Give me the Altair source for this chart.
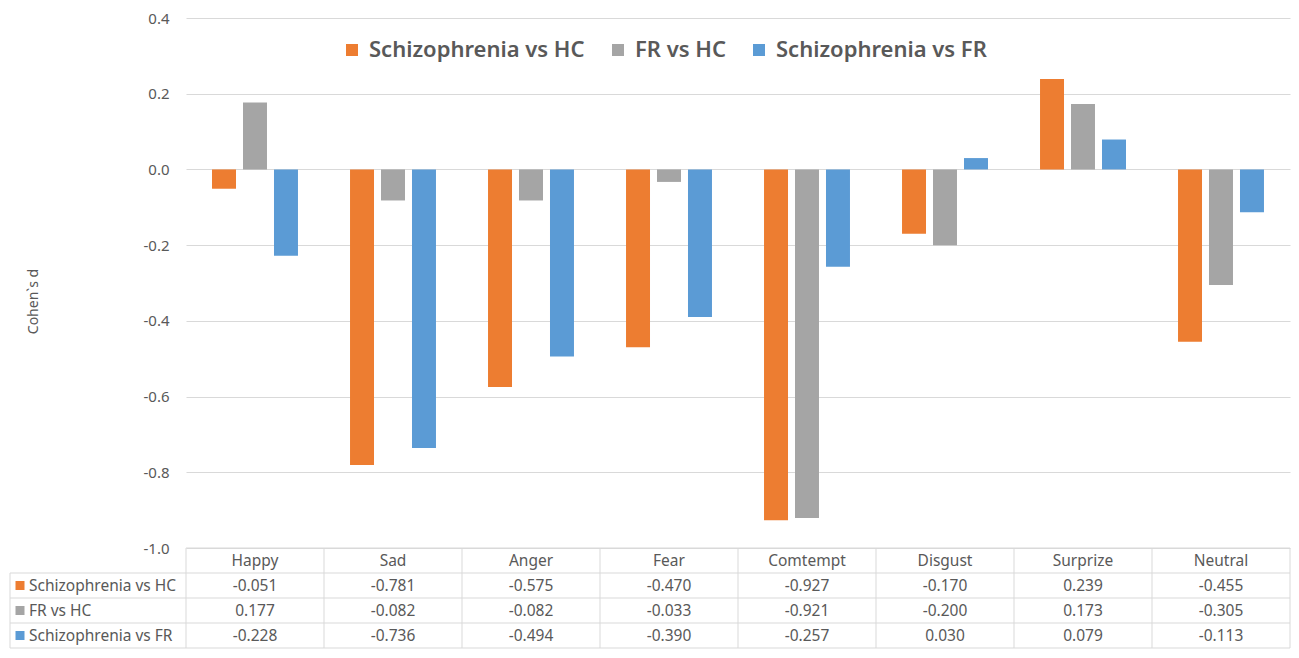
import altair as alt
import pandas as pd

CATEGORIES = ["Happy", "Sad", "Anger", "Fear", "Comtempt", "Disgust", "Surprize", "Neutral"]
SERIES = ["Schizophrenia vs HC", "FR vs HC", "Schizophrenia vs FR"]
COLORS = ["#ED7D31", "#A5A5A5", "#5B9BD5"]
SZ_VS_HC = [-0.051, -0.781, -0.575, -0.470, -0.927, -0.170, 0.239, -0.455]
FR_VS_HC = [0.177, -0.082, -0.082, -0.033, -0.921, -0.200, 0.173, -0.305]
SZ_VS_FR = [-0.228, -0.736, -0.494, -0.390, -0.257, 0.030, 0.079, -0.113]
Y_TICKS = [-1.0, -0.8, -0.6, -0.4, -0.2, 0.0, 0.2, 0.4]
Y_TITLE = "Cohen`s d"

# layout constants (pixels)
W = 1104
H = 530
ROW_H = 25
LEFT = 178
TOP = 10
LEFT_COL = -176
FONT = "Noto Sans"
TXT = "#595959"
GRID = "#D9D9D9"

values = {SERIES[0]: SZ_VS_HC, SERIES[1]: FR_VS_HC, SERIES[2]: SZ_VS_FR}
rows = []
for s in SERIES:
    for c, v in zip(CATEGORIES, values[s]):
        rows.append({"cat": c, "series": s, "value": v, "label": f"{v:.3f}", "row": s})
df = pd.DataFrame(rows)
cats_df = pd.DataFrame({"cat": CATEGORIES, "row": ["header"] * len(CATEGORIES)})
series_df = pd.DataFrame({"series": SERIES, "row": SERIES})
last_df = pd.DataFrame({"row": [SERIES[-1]]})

ROWS = ["header"] + SERIES
x_scale = alt.Scale(domain=CATEGORIES, paddingInner=0, paddingOuter=0)
row_scale = alt.Scale(domain=ROWS, range=[H, H + ROW_H * len(ROWS)], paddingInner=0, paddingOuter=0)
color_scale = alt.Scale(domain=SERIES, range=COLORS)

legend = alt.Legend(
    orient="none", legendX=155, legendY=21, direction="horizontal", title=None,
    symbolType="square", symbolSize=144, symbolStrokeWidth=0, labelFontSize=22,
    labelFontWeight=600, labelColor=TXT, labelFont=FONT, columnPadding=22,
    labelOffset=6, labelLimit=400,
)

X = alt.X("cat:N", scale=x_scale, axis=None)

bars = alt.Chart(df).mark_bar().encode(
    x=X,
    xOffset=alt.XOffset("series:N", scale=alt.Scale(domain=SERIES, paddingInner=0.226, paddingOuter=0.84)),
    y=alt.Y(
        "value:Q",
        scale=alt.Scale(domain=[-1.0, 0.4], nice=False),
        axis=alt.Axis(
            values=Y_TICKS, title=Y_TITLE, domain=False, ticks=False, grid=True,
            gridColor=GRID, labelFontSize=15, labelColor=TXT, labelFont=FONT,
            labelPadding=17, labelExpr="replace(format(datum.value, '.1f'), '\u2212', '-')",
            titleFont=FONT, titleFontSize=14, titleFontWeight="normal", titleColor=TXT,
            titleX=-153, titleY=283, titleAngle=-90, titleAlign="center", titleBaseline="middle",
        ),
    ),
    color=alt.Color("series:N", scale=color_scale, legend=legend),
)

RY = lambda **kw: alt.Y("row:N", scale=row_scale, axis=None, **kw)

cells = alt.Chart(df).mark_text(fontSize=15.5, font=FONT, color=TXT).encode(
    x=X, y=RY(), text="label:N"
)
header = alt.Chart(cats_df).mark_text(fontSize=15.5, font=FONT, color=TXT).encode(
    x=X, y=RY(), text="cat:N"
)
row_names = alt.Chart(series_df).mark_text(fontSize=15.5, font=FONT, color=TXT, align="left").encode(
    x=alt.value(-157), y=RY(), text="series:N"
)
squares = alt.Chart(series_df).mark_square(size=81, opacity=1).encode(
    x=alt.value(-166), y=RY(), color=alt.Color("series:N", scale=color_scale, legend=legend)
)

# table borders
header_top = alt.Chart(cats_df.head(1)).mark_rule(color=GRID, strokeWidth=1).encode(
    y=RY(bandPosition=0), x=alt.value(0), x2=alt.value(W)
)
row_lines = alt.Chart(series_df).mark_rule(color=GRID, strokeWidth=1).encode(
    y=RY(bandPosition=0), x=alt.value(LEFT_COL), x2=alt.value(W)
)
bottom_line = alt.Chart(last_df).mark_rule(color=GRID, strokeWidth=1).encode(
    y=RY(bandPosition=1), x=alt.value(LEFT_COL), x2=alt.value(W)
)
col_lines = alt.Chart(cats_df).mark_rule(color=GRID, strokeWidth=1).encode(
    x=alt.X("cat:N", scale=x_scale, axis=None, bandPosition=0),
    y=alt.value(H), y2=alt.value(H + ROW_H * len(ROWS)),
)
right_line = alt.Chart(last_df).mark_rule(color=GRID, strokeWidth=1).encode(
    x=alt.value(W), y=alt.value(H), y2=alt.value(H + ROW_H * len(ROWS)),
)
left_line = alt.Chart(last_df).mark_rule(color=GRID, strokeWidth=1).encode(
    x=alt.value(LEFT_COL), y=alt.value(H + ROW_H), y2=alt.value(H + ROW_H * len(ROWS)),
)

chart = alt.layer(
    bars, header_top, row_lines, bottom_line, col_lines, right_line, left_line,
    cells, header, row_names, squares,
).resolve_scale(y="independent").properties(
    width=W, height=H,
    padding={"left": LEFT, "top": TOP, "right": 1, "bottom": ROW_H * len(ROWS) + 1},
    autosize=alt.AutoSizeParams(type="none"),
    background="white",
).configure_view(stroke=None)

chart.save("out.html", embed_options={"renderer": "svg", "actions": False})
